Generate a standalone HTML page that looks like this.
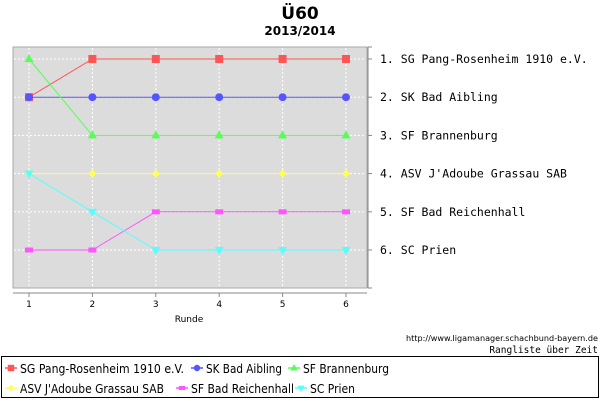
<!DOCTYPE html>
<html><head><meta charset="utf-8"><style>
body{margin:0;background:#fff;width:600px;height:400px;overflow:hidden}
</style></head><body>
<svg id="chart" width="600" height="400" xmlns="http://www.w3.org/2000/svg" font-family="DejaVu Sans, Liberation Sans, sans-serif">
<text x="300" y="19" text-anchor="middle" font-size="17" font-weight="bold">Ü60</text>
<text x="300" y="35" text-anchor="middle" font-size="12" font-weight="bold">2013/2014</text>
<rect x="13" y="47" width="354" height="241" fill="#dcdcdc" stroke="#aaa"/>
<g id="grid"></g>
<line x1="13" y1="293" x2="367" y2="293" stroke="#888"/>
<line x1="368" y1="47" x2="368" y2="288" stroke="#888"/>
<g id="xticks"></g><g id="yticks"></g>
<text x="189" y="322" text-anchor="middle" font-size="9">Runde</text>
<g id="series"></g>
<text x="598" y="341" text-anchor="end" font-size="8" textLength="192" lengthAdjust="spacingAndGlyphs">http://www.ligamanager.schachbund-bayern.de</text>
<text x="598" y="353" text-anchor="end" font-size="9.5" style="font-family:'DejaVu Sans Mono',monospace">Rangliste über Zeit</text>
<rect x="1.5" y="356.5" width="597" height="41" fill="#fff" stroke="#000"/>
<g id="legend"></g>
</svg>
<script>
const rounds=[1,2,3,4,5,6];
const teams=["SG Pang-Rosenheim 1910 e.V.","SK Bad Aibling","SF Brannenburg","ASV J'Adoube Grassau SAB","SF Bad Reichenhall","SC Prien"];
const finalLabels=["1. SG Pang-Rosenheim 1910 e.V.","2. SK Bad Aibling","3. SF Brannenburg","4. ASV J'Adoube Grassau SAB","5. SF Bad Reichenhall","6. SC Prien"];
const sPang=[2,1,1,1,1,1];
const sAibling=[2,2,2,2,2,2];
const sBrann=[1,3,3,3,3,3];
const sGrassau=[4,4,4,4,4,4];
const sReich=[6,6,5,5,5,5];
const sPrien=[4,5,6,6,6,6];
const seriesData=[sPang,sAibling,sBrann,sGrassau,sReich,sPrien];
const colors=["#ff5555","#5555ff","#55ff55","#ffff55","#ff55ff","#55ffff"];
const shapes=["square","circle","tri","diamond","rect","tridown"];
const NS="http://www.w3.org/2000/svg";
const X=r=>29+(r-1)*(346-29)/5;
const Y=k=>59+(k-1)*(250-59)/5;
function mk(t,a,p){const e=document.createElementNS(NS,t);for(const k in a)e.setAttribute(k,a[k]);p.appendChild(e);return e;}
const grid=document.getElementById('grid');
rounds.forEach(r=>{const l=mk('line',{x1:X(r),y1:48,x2:X(r),y2:287,stroke:'#fff','stroke-dasharray':'2,2'},grid);
const t=mk('line',{x1:X(r),y1:293,x2:X(r),y2:297,stroke:'#888'},document.getElementById('xticks'));
const tx=mk('text',{x:X(r),y:307,'text-anchor':'middle','font-size':9},document.getElementById('xticks'));tx.textContent=r;});
finalLabels.forEach((s,i)=>{const y=Y(i+1);const l=mk('line',{x1:14,y1:y,x2:366,y2:y,stroke:'#fff','stroke-dasharray':'2,2'},grid);
const t=mk('line',{x1:368,y1:y,x2:372,y2:y,stroke:'#888'},document.getElementById('yticks'));
const tx=mk('text',{x:380,y:y+4,'font-size':11.5,style:"font-family:'DejaVu Sans Mono',monospace"},document.getElementById('yticks'));tx.textContent=s;});
[47,288].forEach(y=>{const t=mk('line',{x1:368,y1:y,x2:372,y2:y,stroke:'#888'},document.getElementById('yticks'));});
function marker(shape,x,y,c,p,sc){sc=sc||1;let e;
if(shape=='square')e=mk('rect',{x:x-4*sc,y:y-4*sc,width:8*sc,height:8*sc,fill:c},p);
else if(shape=='circle')e=mk('circle',{cx:x,cy:y,r:4*sc,fill:c},p);
else if(shape=='tri')e=mk('polygon',{points:`${x},${y-5*sc} ${x+4.5*sc},${y+3*sc} ${x-4.5*sc},${y+3*sc}`,fill:c},p);
else if(shape=='tridown')e=mk('polygon',{points:`${x},${y+5*sc} ${x+4.5*sc},${y-3*sc} ${x-4.5*sc},${y-3*sc}`,fill:c},p);
else if(shape=='diamond')e=mk('polygon',{points:`${x},${y-4*sc} ${x+4*sc},${y} ${x},${y+4*sc} ${x-4*sc},${y}`,fill:c},p);
else e=mk('rect',{x:x-4*sc,y:y-2.5*sc,width:8*sc,height:5*sc,fill:c},p);
return e;}
const sg=document.getElementById('series');
seriesData.forEach((d,i)=>{const g=mk('g',{},sg);
const pl=mk('polyline',{points:d.map((v,j)=>X(rounds[j])+','+Y(v)).join(' '),fill:'none',stroke:colors[i],'stroke-width':1},g);
d.forEach((v,j)=>{const m=marker(shapes[i],X(rounds[j]),Y(v),colors[i],g);});});
const lg=document.getElementById('legend');
const lx=[5,191,288,5,176,295],ly=[368,368,368,388,388,388],tl=[164,76,86,144,103,45];
teams.forEach((t,i)=>{const g=mk('g',{},lg);
mk('line',{x1:lx[i],y1:ly[i],x2:lx[i]+12,y2:ly[i],stroke:colors[i],'stroke-width':1.5},g);
marker(shapes[i],lx[i]+6,ly[i],colors[i],g,0.8);
const tx=mk('text',{x:lx[i]+15,y:ly[i]+5,'font-size':12.5,textLength:tl[i],lengthAdjust:'spacingAndGlyphs'},g);tx.textContent=t;});
</script>
</body></html>
